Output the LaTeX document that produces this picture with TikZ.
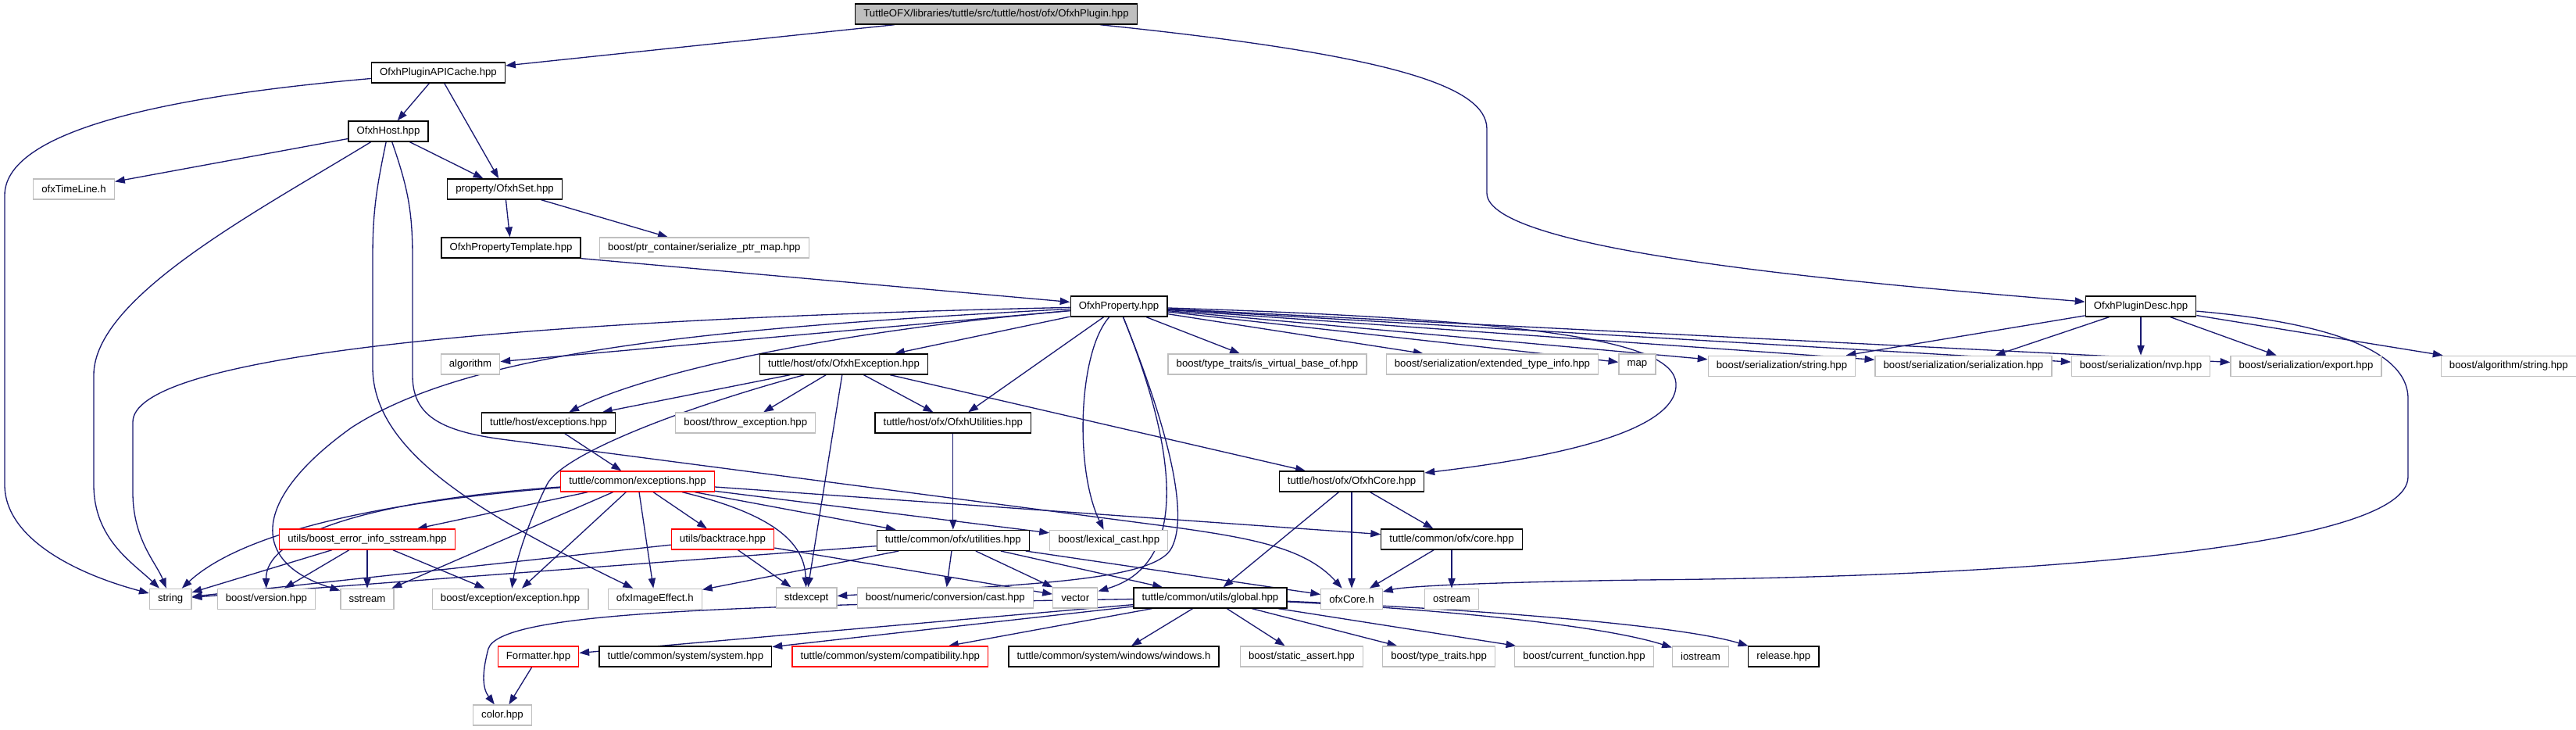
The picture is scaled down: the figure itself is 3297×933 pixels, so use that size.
\documentclass[tikz,border=0pt]{standalone}
\usepackage{fontspec}
\setmainfont{Liberation Sans}
\usetikzlibrary{positioning, arrows.meta, backgrounds}
\definecolor{edgeblue}{HTML}{191970}
\definecolor{boxgray}{HTML}{BFBFBF}

\begin{document}
\begin{tikzpicture}[
  x=0.5pt, y=-0.5pt,
  incfile/.style={draw, rectangle, minimum height=13pt, inner xsep=5.3pt, inner ysep=0pt,
                  fill=white, line width=0.66pt, font=\fontsize{6.6}{8}\selectfont},
  rootfile/.style={incfile, fill=boxgray, draw=black},
  localinc/.style={incfile, draw=black},
  sysinc/.style={incfile, draw=boxgray},
  truncinc/.style={incfile, draw=red},
  arr/.style={-{Triangle[length=6.4pt, width=4.6pt]}, line width=0.66pt, color=edgeblue},
]
\useasboundingbox (0,0) rectangle (3297,933);

% --- Top: the documented file ---
\node[rootfile] (root) at (1275,18) {TuttleOFX/libraries/tuttle/src/tuttle/host/ofx/OfxhPlugin.hpp};

% --- Host side ---
\node[localinc] (apicache) at (561,93) {OfxhPluginAPICache.hpp};
\node[localinc] (host) at (497,168) {OfxhHost.hpp};
\node[sysinc] (timeline) at (94.5,242) {ofxTimeLine.h};
\node[localinc] (ofxhset) at (646,242) {property/OfxhSet.hpp};
\node[localinc] (proptemplate) at (654,317) {OfxhPropertyTemplate.hpp};
\node[sysinc, right=11.5pt of proptemplate] (ptrmap) {boost/ptr\_container/serialize\_ptr\_map.hpp};
\node[localinc] (property) at (1432,392) {OfxhProperty.hpp};
\node[localinc] (plugindesc) at (2740,392) {OfxhPluginDesc.hpp};

% --- Row: direct includes of the property ---
\node[sysinc] (algorithm) at (602,466) {algorithm};
\node[localinc] (ofxhexc) at (1080,466) {tuttle/host/ofx/OfxhException.hpp};
\node[sysinc] (isvirtual) at (1622,466) {boost/type\_traits/is\_virtual\_base\_of.hpp};
\node[sysinc, right=12pt of isvirtual] (exttype) {boost/serialization/extended\_type\_info.hpp};
\node[sysinc, right=12.5pt of exttype] (map) {map};
\node[sysinc, below=24.5pt of plugindesc] (nvp) {boost/serialization/nvp.hpp};
\node[sysinc, left=12pt of nvp] (serser) {boost/serialization/serialization.hpp};
\node[sysinc, left=12pt of serser] (serstring) {boost/serialization/string.hpp};
\node[sysinc, right=12.5pt of nvp] (export) {boost/serialization/export.hpp};
\node[sysinc, right=37.5pt of export] (algostring) {boost/algorithm/string.hpp};

% --- Host exceptions and utilities ---
\node[localinc] (hostexc) at (702,541) {tuttle/host/exceptions.hpp};
\node[sysinc, right=38pt of hostexc] (throwexc) {boost/throw\_exception.hpp};
\node[localinc, right=37.5pt of throwexc] (ofxhutil) {tuttle/host/ofx/OfxhUtilities.hpp};
\node[truncinc] (commonexc) at (816,616) {tuttle/common/exceptions.hpp};
\node[localinc] (ofxhcore) at (1730,616) {tuttle/host/ofx/OfxhCore.hpp};

% --- Common layer ---
\node[truncinc] (errinfo) at (470,690) {utils/boost\_error\_info\_sstream.hpp};
\node[truncinc] (backtrace) at (925,690) {utils/backtrace.hpp};
\node[localinc, below=61.5pt of ofxhutil] (comutil) {tuttle/common/ofx/utilities.hpp};
\node[sysinc, right=12.5pt of comutil] (lexcast) {boost/lexical\_cast.hpp};
\node[localinc] (comcore) at (1858,690) {tuttle/common/ofx/core.hpp};

% --- Leaves ---
\node[sysinc, below=24.5pt of errinfo] (sstream) {sstream};
\node[sysinc, left=15.5pt of sstream] (version) {boost/version.hpp};
\node[sysinc, left=16pt of version] (string) {string};
\node[sysinc, right=24pt of sstream] (boostexc) {boost/exception/exception.hpp};
\node[sysinc, right=12pt of boostexc] (imageeffect) {ofxImageEffect.h};
\node[sysinc] (stdexcept) at (1032,765) {stdexcept};
\node[sysinc, right=12.5pt of stdexcept] (numcast) {boost/numeric/conversion/cast.hpp};
\node[sysinc, right=12pt of numcast] (vector) {vector};
\node[localinc] (global) at (1549,765) {tuttle/common/utils/global.hpp};
\node[sysinc, below=61.5pt of ofxhcore] (ofxcore) {ofxCore.h};
\node[sysinc, below=24.5pt of comcore] (ostream) {ostream};

% --- Row: includes of global.hpp ---
\node[truncinc] (formatter) at (689,840) {Formatter.hpp};
\node[localinc, right=12.5pt of formatter] (system) {tuttle/common/system/system.hpp};
\node[truncinc, right=12.5pt of system] (compat) {tuttle/common/system/compatibility.hpp};
\node[localinc, right=12.5pt of compat] (windows) {tuttle/common/system/windows/windows.h};
\node[sysinc, right=13pt of windows] (staticassert) {boost/static\_assert.hpp};
\node[sysinc, right=12pt of staticassert] (typetraits) {boost/type\_traits.hpp};
\node[sysinc, right=12pt of typetraits] (curfunc) {boost/current\_function.hpp};
\node[sysinc, right=11.5pt of curfunc] (iostream) {iostream};
\node[localinc, right=12pt of iostream] (release) {release.hpp};
\node[sysinc] (color) at (643,915) {color.hpp};

\begin{scope}[on background layer]
% --- Top file ---
\draw[arr] (root) -- (apicache);
\draw[arr] (root) .. controls (1780,70) and (1903,110) .. (1903,165) -- (1903,247)
  .. controls (1903,320) and (2350,360) .. (plugindesc);

% --- Plugin cache and host ---
\draw[arr] (apicache) -- (host);
\draw[arr] (apicache) -- (ofxhset);
\draw[arr] (apicache) .. controls (250,120) and (6,160) .. (6,250) -- (6,620)
  .. controls (6,690) and (100,735) .. (string);
\draw[arr] (host) -- (timeline);
\draw[arr] (host) -- (ofxhset);
\draw[arr] (host) .. controls (330,270) and (120,380) .. (120,480) -- (120,620)
  .. controls (120,690) and (170,720) .. (string);
\draw[arr] (host) .. controls (482,240) and (477,270) .. (477,330) -- (477,470)
  .. controls (477,580) and (620,660) .. (imageeffect);
\draw[arr] (host) .. controls (522,240) and (528,270) .. (528,330) -- (528,480)
  .. controls (528,530) and (560,552) .. (650,563) -- (1491,673)
  .. controls (1600,688) and (1670,700) .. (ofxcore);
\draw[arr] (ofxhset) -- (proptemplate);
\draw[arr] (ofxhset) -- (ptrmap);
\draw[arr] (proptemplate.south east) -- (property);

% --- Property ---
\draw[arr] (property) .. controls (600,410) and (170,460) .. (170,540) -- (170,630)
  .. controls (170,690) and (200,720) .. (string);
\draw[arr] (property) -- (algorithm);
\draw[arr] (property) .. controls (900,420) and (600,450) .. (450,547)
  .. controls (320,640) and (320,720) .. (sstream);
\draw[arr] (property) .. controls (1000,430) and (800,490) .. (hostexc);
\draw[arr] (property) -- (ofxhexc);
\draw[arr] (property) -- (ofxhutil);
\draw[arr] (property) .. controls (1380,450) and (1375,600) .. (lexcast);
\draw[arr] (property) .. controls (1500,560) and (1530,720) .. (vector);
\draw[arr] (property) .. controls (1500,560) and (1520,660) .. (1500,700)
  .. controls (1480,745) and (1300,748) .. (stdexcept);
\draw[arr] (property) -- (isvirtual);
\draw[arr] (property) -- (exttype);
\draw[arr] (property) -- (map);
\draw[arr] (property) -- (serstring);
\draw[arr] (property) -- (serser);
\draw[arr] (property) -- (nvp);
\draw[arr] (property) -- (export);
\draw[arr] (property) .. controls (2000,410) and (2150,440) .. (2145,495)
  .. controls (2140,560) and (1950,590) .. (ofxhcore);

% --- Plugin description ---
\draw[arr] (plugindesc) -- (serstring);
\draw[arr] (plugindesc) -- (serser);
\draw[arr] (plugindesc) -- (nvp);
\draw[arr] (plugindesc) -- (export);
\draw[arr] (plugindesc) -- (algostring);
\draw[arr] (plugindesc) .. controls (2950,410) and (3082,440) .. (3082,510) -- (3082,610)
  .. controls (3082,700) and (2600,738) .. (2100,742)
  .. controls (1900,745) and (1800,750) .. (ofxcore);

% --- Host exceptions, utilities, core ---
\draw[arr] (ofxhexc) -- (hostexc);
\draw[arr] (ofxhexc) .. controls (880,520) and (720,580) .. (700,620)
  .. controls (675,670) and (660,720) .. (boostexc);
\draw[arr] (ofxhexc) -- (throwexc);
\draw[arr] (ofxhexc) -- (stdexcept);
\draw[arr] (ofxhexc) -- (ofxhutil);
\draw[arr] (ofxhexc) -- (ofxhcore);
\draw[arr] (hostexc) -- (commonexc);
\draw[arr] (ofxhutil) -- (comutil);
\draw[arr] (ofxhcore) -- (global);
\draw[arr] (ofxhcore) -- (ofxcore);
\draw[arr] (ofxhcore) -- (comcore);

% --- Common exceptions ---
\draw[arr] (commonexc) .. controls (450,645) and (300,690) .. (string);
\draw[arr] (commonexc) .. controls (450,642) and (340,690) .. (version);
\draw[arr] (commonexc) -- (errinfo);
\draw[arr] (commonexc) -- (sstream);
\draw[arr] (commonexc) -- (boostexc);
\draw[arr] (commonexc) -- (imageeffect);
\draw[arr] (commonexc) -- (backtrace);
\draw[arr] (commonexc) .. controls (1000,660) and (1030,700) .. (stdexcept);
\draw[arr] (commonexc) -- (comutil);
\draw[arr] (commonexc) -- (lexcast);
\draw[arr] (commonexc) -- (comcore);
\draw[arr] (errinfo) -- (string);
\draw[arr] (errinfo) -- (version);
\draw[arr] (errinfo) -- (sstream);
\draw[arr] (errinfo) -- (boostexc);
\draw[arr] (backtrace) -- (string);
\draw[arr] (backtrace) -- (stdexcept);
\draw[arr] (backtrace) -- (vector);

% --- Common ofx ---
\draw[arr] (comutil) -- (string);
\draw[arr] (comutil) -- (imageeffect);
\draw[arr] (comutil) -- (numcast);
\draw[arr] (comutil) -- (vector);
\draw[arr] (comutil) -- (global);
\draw[arr] (comutil) -- (ofxcore);
\draw[arr] (comcore) -- (ofxcore);
\draw[arr] (comcore) -- (ostream);

% --- Global ---
\draw[arr] (global) .. controls (900,775) and (640,785) .. (625,830)
  .. controls (617,860) and (617,880) .. (color);
\draw[arr] (global) -- (formatter);
\draw[arr] (global) -- (system);
\draw[arr] (global) -- (compat);
\draw[arr] (global) -- (windows);
\draw[arr] (global) -- (staticassert);
\draw[arr] (global) -- (typetraits);
\draw[arr] (global) -- (curfunc);
\draw[arr] (global) .. controls (1850,780) and (2050,800) .. (iostream);
\draw[arr] (global) .. controls (1900,780) and (2150,800) .. (release);
\draw[arr] (formatter) -- (color);
\end{scope}

\end{tikzpicture}
\end{document}
